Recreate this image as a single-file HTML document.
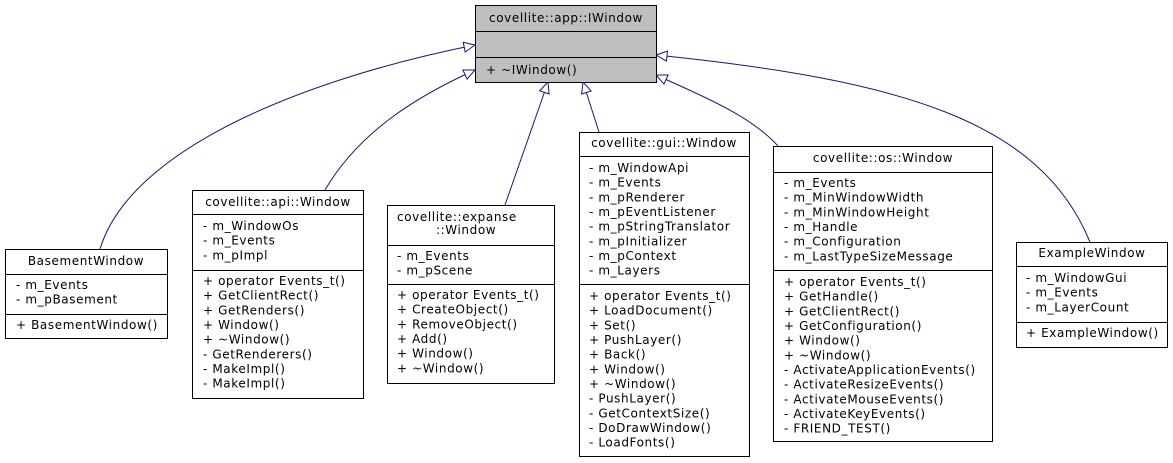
<!DOCTYPE html>
<html><head><meta charset="utf-8"><style>
html,body{margin:0;padding:0;background:#fff;}
svg{display:block;}
text{font-family:"DejaVu Sans","Liberation Sans",sans-serif;font-size:12px;letter-spacing:0.6px;fill:#000;}
.b{fill:#fff;stroke:#000;stroke-width:1;}
.l{stroke:#000;stroke-width:1;}
.e{fill:none;stroke:#191970;stroke-width:1;}
</style></head><body>
<svg width="1173" height="463" viewBox="0 0 1173 463" xmlns="http://www.w3.org/2000/svg">
<defs>
<marker id="a" markerWidth="14" markerHeight="12" refX="12" refY="6" orient="auto" markerUnits="userSpaceOnUse">
<path d="M1,1 L12,6 L1,11 Z" fill="#fff" stroke="#191970" stroke-width="1"/>
</marker>
</defs>
<path class="e" d="M100,249 C 130,150 300,80 475,45" marker-end="url(#a)"/>
<path class="e" d="M325,190 C 360,130 420,95 475,70" marker-end="url(#a)"/>
<path class="e" d="M505,205 L548,82" marker-end="url(#a)"/>
<path class="e" d="M599,132 L583,82" marker-end="url(#a)"/>
<path class="e" d="M778,146 C 750,115 700,95 656,75" marker-end="url(#a)"/>
<path class="e" d="M1090,242 C 1040,120 900,80 656,55" marker-end="url(#a)"/>

<rect x="475.5" y="5.5" width="181" height="77" fill="#bfbfbf" stroke="#000"/>
<line class="l" x1="475" y1="31.5" x2="656" y2="31.5"/>
<line class="l" x1="475" y1="57.5" x2="656" y2="57.5"/>
<text x="566" y="22" text-anchor="middle">covellite::app::IWindow</text>
<text x="486" y="74">+ ~IWindow()</text>

<rect class="b" x="5.5" y="249.5" width="162" height="89"/>
<line class="l" x1="5" y1="274.5" x2="168" y2="274.5"/>
<line class="l" x1="5" y1="314.5" x2="168" y2="314.5"/>
<text x="86" y="265" text-anchor="middle">BasementWindow</text>
<text x="16" y="289">- m_Events<tspan x="16" dy="14.67">- m_pBasement</tspan></text>
<text x="16" y="329">+ BasementWindow()</text>

<rect class="b" x="192.5" y="190.5" width="171" height="208"/>
<line class="l" x1="192" y1="214.5" x2="364" y2="214.5"/>
<line class="l" x1="192" y1="270.5" x2="364" y2="270.5"/>
<text x="278" y="206" text-anchor="middle">covellite::api::Window</text>
<text x="203" y="230">- m_WindowOs<tspan x="203" dy="14.67">- m_Events</tspan><tspan x="203" dy="14.67">- m_pImpl</tspan></text>
<text x="203" y="285">+ operator Events_t()<tspan x="203" dy="14.67">+ GetClientRect()</tspan><tspan x="203" dy="14.67">+ GetRenders()</tspan><tspan x="203" dy="14.67">+ Window()</tspan><tspan x="203" dy="14.67">+ ~Window()</tspan><tspan x="203" dy="14.67">- GetRenderers()</tspan><tspan x="203" dy="14.67">- MakeImpl()</tspan><tspan x="203" dy="14.67">- MakeImpl()</tspan></text>

<rect class="b" x="387.5" y="205.5" width="167" height="178"/>
<line class="l" x1="387" y1="245.5" x2="555" y2="245.5"/>
<line class="l" x1="387" y1="284.5" x2="555" y2="284.5"/>
<text x="397" y="221">covellite::expanse</text>
<text x="436" y="234">::Window</text>
<text x="397" y="260">- m_Events<tspan x="397" dy="14.67">- m_pScene</tspan></text>
<text x="397" y="299">+ operator Events_t()<tspan x="397" dy="14.67">+ CreateObject()</tspan><tspan x="397" dy="14.67">+ RemoveObject()</tspan><tspan x="397" dy="14.67">+ Add()</tspan><tspan x="397" dy="14.67">+ Window()</tspan><tspan x="397" dy="14.67">+ ~Window()</tspan></text>

<rect class="b" x="579.5" y="132.5" width="170" height="324"/>
<line class="l" x1="579" y1="156.5" x2="750" y2="156.5"/>
<line class="l" x1="579" y1="284.5" x2="750" y2="284.5"/>
<text x="664" y="147" text-anchor="middle">covellite::gui::Window</text>
<text x="589" y="172">- m_WindowApi<tspan x="589" dy="14.67">- m_Events</tspan><tspan x="589" dy="14.67">- m_pRenderer</tspan><tspan x="589" dy="14.67">- m_pEventListener</tspan><tspan x="589" dy="14.67">- m_pStringTranslator</tspan><tspan x="589" dy="14.67">- m_pInitializer</tspan><tspan x="589" dy="14.67">- m_pContext</tspan><tspan x="589" dy="14.67">- m_Layers</tspan></text>
<text x="589" y="300">+ operator Events_t()<tspan x="589" dy="14.67">+ LoadDocument()</tspan><tspan x="589" dy="14.67">+ Set()</tspan><tspan x="589" dy="14.67">+ PushLayer()</tspan><tspan x="589" dy="14.67">+ Back()</tspan><tspan x="589" dy="14.67">+ Window()</tspan><tspan x="589" dy="14.67">+ ~Window()</tspan><tspan x="589" dy="14.67">- PushLayer()</tspan><tspan x="589" dy="14.67">- GetContextSize()</tspan><tspan x="589" dy="14.67">- DoDrawWindow()</tspan><tspan x="589" dy="14.67">- LoadFonts()</tspan></text>

<rect class="b" x="773.5" y="146.5" width="219" height="295"/>
<line class="l" x1="773" y1="172.5" x2="993" y2="172.5"/>
<line class="l" x1="773" y1="270.5" x2="993" y2="270.5"/>
<text x="883" y="162" text-anchor="middle">covellite::os::Window</text>
<text x="784" y="187">- m_Events<tspan x="784" dy="14.67">- m_MinWindowWidth</tspan><tspan x="784" dy="14.67">- m_MinWindowHeight</tspan><tspan x="784" dy="14.67">- m_Handle</tspan><tspan x="784" dy="14.67">- m_Configuration</tspan><tspan x="784" dy="14.67">- m_LastTypeSizeMessage</tspan></text>
<text x="784" y="286">+ operator Events_t()<tspan x="784" dy="14.67">+ GetHandle()</tspan><tspan x="784" dy="14.67">+ GetClientRect()</tspan><tspan x="784" dy="14.67">+ GetConfiguration()</tspan><tspan x="784" dy="14.67">+ Window()</tspan><tspan x="784" dy="14.67">+ ~Window()</tspan><tspan x="784" dy="14.67">- ActivateApplicationEvents()</tspan><tspan x="784" dy="14.67">- ActivateResizeEvents()</tspan><tspan x="784" dy="14.67">- ActivateMouseEvents()</tspan><tspan x="784" dy="14.67">- ActivateKeyEvents()</tspan><tspan x="784" dy="14.67">- FRIEND_TEST()</tspan></text>

<rect class="b" x="1016.5" y="242.5" width="151" height="105"/>
<line class="l" x1="1016" y1="266.5" x2="1168" y2="266.5"/>
<line class="l" x1="1016" y1="322.5" x2="1168" y2="322.5"/>
<text x="1092" y="257" text-anchor="middle">ExampleWindow</text>
<text x="1026" y="282">- m_WindowGui<tspan x="1026" dy="14.67">- m_Events</tspan><tspan x="1026" dy="14.67">- m_LayerCount</tspan></text>
<text x="1026" y="337">+ ExampleWindow()</text>
</svg>
</body></html>
